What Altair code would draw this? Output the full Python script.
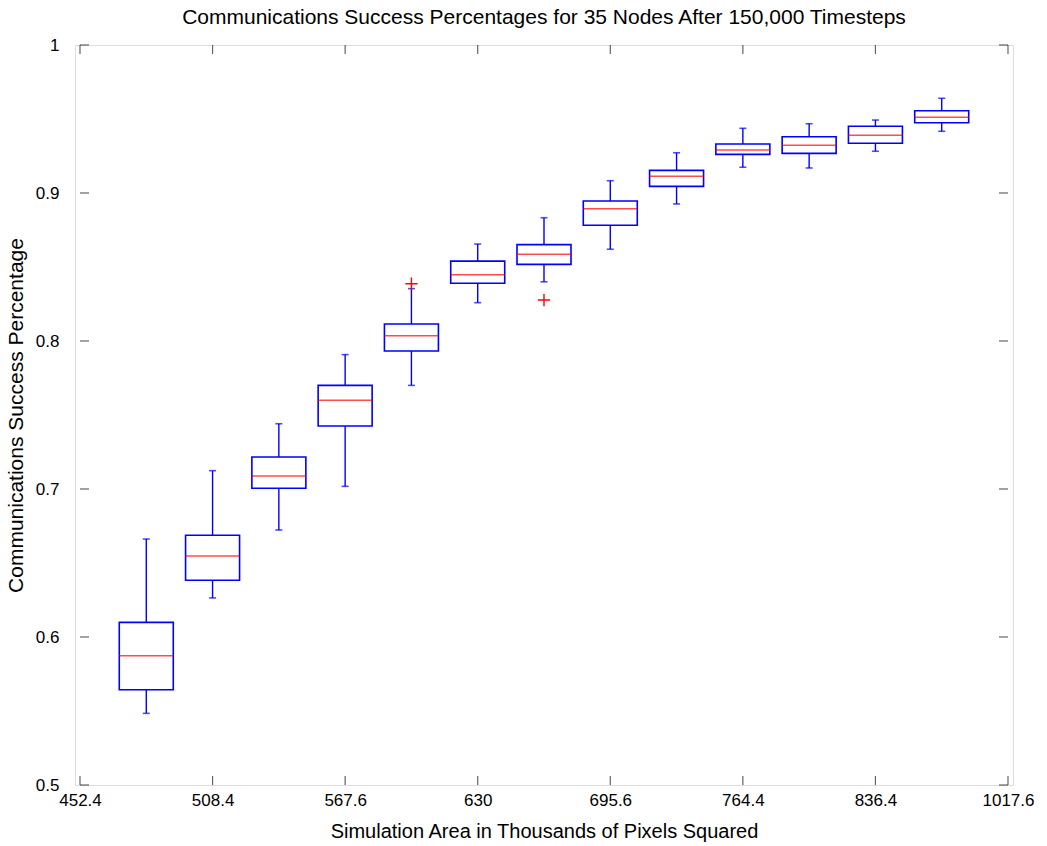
import altair as alt
import pandas as pd

# Box statistics per simulation area (positions 1..13 on the x scale)
positions = list(range(1, 14))
whisker_low = [0.5484, 0.6264, 0.6723, 0.7018, 0.7700, 0.8259, 0.8400,
               0.8620, 0.8926, 0.9174, 0.9169, 0.9282, 0.9417]
q1 = [0.5644, 0.6383, 0.7005, 0.7426, 0.7932, 0.8390, 0.8518,
      0.8782, 0.9045, 0.9261, 0.9268, 0.9336, 0.9475]
median = [0.5874, 0.6547, 0.7088, 0.7600, 0.8036, 0.8448, 0.8586,
          0.8894, 0.9113, 0.9291, 0.9322, 0.9390, 0.9511]
q3 = [0.6099, 0.6687, 0.7216, 0.7700, 0.8115, 0.8540, 0.8651,
      0.8946, 0.9153, 0.9331, 0.9380, 0.9451, 0.9556]
whisker_high = [0.6662, 0.7124, 0.7441, 0.7908, 0.8354, 0.8655, 0.8833,
                0.9083, 0.9272, 0.9437, 0.9468, 0.9493, 0.9640]

outlier_pos = [5, 7]
outlier_val = [0.8387, 0.8277]

x_tick_values = [0, 2, 4, 6, 8, 10, 12, 14]
x_tick_labels = ["452.4", "508.4", "567.6", "630", "695.6", "764.4", "836.4", "1017.6"]
y_tick_values = [0.5, 0.6, 0.7, 0.8, 0.9, 1.0]

boxes = pd.DataFrame(dict(pos=positions, lo=whisker_low, q1=q1, med=median,
                          q3=q3, hi=whisker_high))
outliers = pd.DataFrame(dict(pos=outlier_pos, val=outlier_val))
xticks = pd.DataFrame(dict(v=x_tick_values))
yticks = pd.DataFrame(dict(v=y_tick_values))

BLUE = "#0000ff"
RED = "#ff0000"
FONT = "Liberation Sans"

xscale = alt.Scale(domain=[0, 14], nice=False, zero=False)
yscale = alt.Scale(domain=[0.5, 1.0], nice=False, zero=False)

label_expr = "[" + ",".join(f"'{s}'" for s in x_tick_labels) + "][datum.value / 2]"

x_axis = alt.Axis(values=x_tick_values, labelExpr=label_expr,
                  title="Simulation Area in Thousands of Pixels Squared",
                  domain=False, ticks=False, grid=False,
                  labelPadding=7, titlePadding=13,
                  labelFontSize=17, titleFontSize=20,
                  titleFontWeight="normal", titleFont=FONT, labelFont=FONT,
                  labelColor="black", titleColor="black")
y_axis = alt.Axis(values=y_tick_values, format="~g",
                  title="Communications Success Percentage",
                  domain=False, ticks=False, grid=False,
                  labelPadding=16, titlePadding=9,
                  labelFontSize=17, titleFontSize=21,
                  titleFontWeight="normal", titleFont=FONT, labelFont=FONT,
                  labelColor="black", titleColor="black")


def X(field):
    return alt.X(field, type="quantitative", scale=xscale, axis=x_axis)


def Y(field):
    return alt.Y(field, type="quantitative", scale=yscale, axis=y_axis)


base = alt.Chart(boxes)

whisker_lo = base.mark_rule(color=BLUE, strokeWidth=1.4).encode(
    x=X("pos"), y=Y("lo"), y2="q1")
whisker_hi = base.mark_rule(color=BLUE, strokeWidth=1.4).encode(
    x=X("pos"), y=Y("q3"), y2="hi")
cap_lo = base.mark_tick(orient="horizontal", size=7, thickness=1.6, color=BLUE).encode(
    x=X("pos"), y=Y("lo"))
cap_hi = base.mark_tick(orient="horizontal", size=7, thickness=1.6, color=BLUE).encode(
    x=X("pos"), y=Y("hi"))
box = base.mark_bar(size=54, fillOpacity=0, stroke=BLUE, strokeWidth=1.6).encode(
    x=X("pos"), y=Y("q1"), y2="q3")
med = base.mark_tick(orient="horizontal", size=54, thickness=1.5, color=RED).encode(
    x=X("pos"), y=Y("med"))
out = alt.Chart(outliers).mark_point(shape="M-1,0H1M0,-1V1", size=150, color=RED,
                                     filled=False, strokeWidth=1.4, opacity=1).encode(
    x=X("pos"), y=Y("val"))

# inward-pointing tick marks on all four sides of the frame
TICK = dict(size=9, thickness=1.2, color="#222222")
tick_bottom = alt.Chart(xticks).mark_tick(orient="vertical", yOffset=-4.5, **TICK).encode(
    x=X("v"), y=alt.Y(datum=0.5, scale=yscale, axis=y_axis))
tick_top = alt.Chart(xticks).mark_tick(orient="vertical", yOffset=4.5, **TICK).encode(
    x=X("v"), y=alt.Y(datum=1.0, scale=yscale, axis=y_axis))
tick_left = alt.Chart(yticks).mark_tick(orient="horizontal", xOffset=4.5, **TICK).encode(
    y=Y("v"), x=alt.X(datum=0, scale=xscale, axis=x_axis))
tick_right = alt.Chart(yticks).mark_tick(orient="horizontal", xOffset=-4.5, **TICK).encode(
    y=Y("v"), x=alt.X(datum=14, scale=xscale, axis=x_axis))

chart = alt.layer(
    whisker_lo, whisker_hi, cap_lo, cap_hi, box, med, out,
    tick_bottom, tick_top, tick_left, tick_right,
).properties(
    width=938, height=740,
    title=alt.TitleParams(
        "Communications Success Percentages for 35 Nodes After 150,000 Timesteps",
        fontSize=21, font=FONT, fontWeight="normal", color="black", offset=8),
    autosize=alt.AutoSizeParams(type="none"),
    padding={"left": 75, "top": 45, "right": 34, "bottom": 61},
).configure_view(
    stroke="black", strokeWidth=1.5
).configure(background="white")

chart.save("out.html", embed_options={"renderer": "svg", "actions": False})
